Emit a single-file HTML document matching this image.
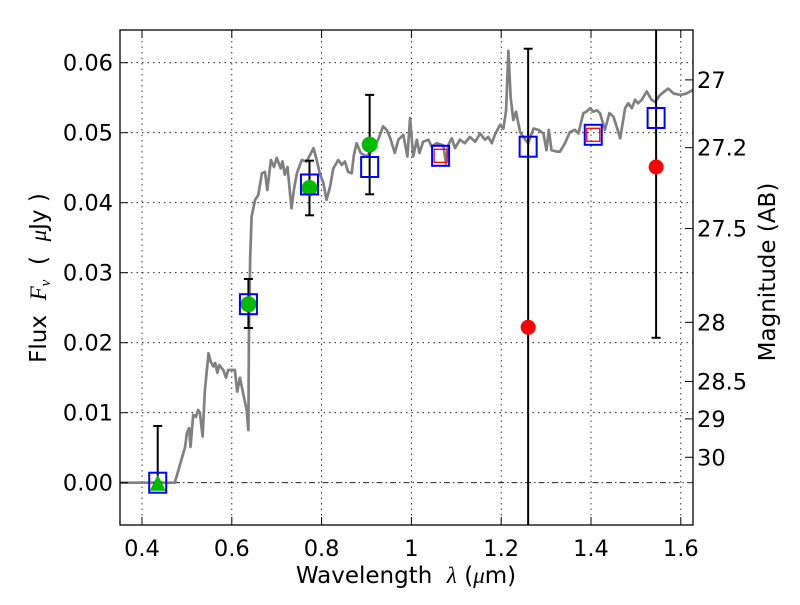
<!DOCTYPE html>
<html><head><meta charset="utf-8"><style>
html,body{margin:0;padding:0;background:#fff;}
svg text{font-family:"DejaVu Sans","Liberation Sans",sans-serif;}
</style></head><body>
<svg id="chart" width="800" height="600" xmlns="http://www.w3.org/2000/svg">
<rect x="0" y="0" width="800" height="600" fill="#fff"/>
<defs><clipPath id="pc"><rect x="120" y="30" width="573" height="495"/></clipPath></defs>
<g id="grid"></g>
<g id="marks" clip-path="url(#pc)"></g>
<rect x="120" y="30" width="573" height="495" fill="none" stroke="#000" stroke-width="1.3"/>
<g id="axes"></g>
<text x="406" y="583" font-size="23" text-anchor="middle" xml:space="preserve">Wavelength  <tspan font-family="Liberation Serif" font-style="italic">λ</tspan> (<tspan font-family="Liberation Serif" font-style="italic">μ</tspan>m)</text>
<text transform="translate(46,278) rotate(-90)" font-size="23" text-anchor="middle" xml:space="preserve">Flux  <tspan font-family="Liberation Serif" font-style="italic">F<tspan font-size="15" dy="4">ν</tspan></tspan><tspan dy="-4">  (  </tspan><tspan font-family="Liberation Serif" font-style="italic">μ</tspan>Jy )</text>
<text transform="translate(775,272) rotate(-90)" font-size="23" text-anchor="middle">Magnitude (AB)</text>
</svg>
<script>
const specWave=[0.351,0.473,0.496,0.500,0.505,0.508,0.514,0.520,0.525,0.529,0.535,0.540,0.548,0.553,0.559,0.563,0.568,0.572,0.581,0.587,0.592,0.607,0.612,0.618,0.633,0.637,0.638,0.641,0.644,0.652,0.659,0.667,0.674,0.679,0.687,0.694,0.700,0.709,0.713,0.718,0.724,0.733,0.739,0.745,0.756,0.767,0.782,0.789,0.796,0.804,0.811,0.819,0.826,0.837,0.845,0.852,0.859,0.867,0.872,0.878,0.887,0.900,0.912,0.926,0.937,0.945,0.952,0.963,0.971,0.982,0.991,0.997,1.004,1.012,1.018,1.026,1.038,1.045,1.056,1.071,1.077,1.082,1.090,1.097,1.108,1.119,1.130,1.142,1.153,1.164,1.171,1.179,1.186,1.197,1.205,1.211,1.216,1.221,1.227,1.233,1.242,1.249,1.260,1.272,1.283,1.294,1.301,1.306,1.312,1.324,1.331,1.342,1.353,1.364,1.372,1.383,1.390,1.398,1.405,1.413,1.420,1.431,1.441,1.450,1.457,1.465,1.476,1.483,1.491,1.498,1.505,1.513,1.524,1.535,1.543,1.554,1.572,1.584,1.599,1.613,1.629];
const specFlux=[0,0,0.0051,0.0071,0.0078,0.0051,0.0097,0.0094,0.0104,0.0100,0.0066,0.0132,0.0185,0.0173,0.0166,0.0171,0.0157,0.0168,0.0161,0.0150,0.0161,0.0161,0.0130,0.0150,0.0104,0.0075,0.0209,0.0323,0.0380,0.0404,0.0411,0.0442,0.0444,0.0418,0.0461,0.0451,0.0464,0.0449,0.0459,0.0440,0.0451,0.0392,0.0421,0.0442,0.0461,0.0459,0.0478,0.0461,0.0442,0.0428,0.0404,0.0423,0.0449,0.0461,0.0454,0.0459,0.0444,0.0442,0.0468,0.0485,0.0471,0.0466,0.0475,0.0490,0.0509,0.0504,0.0494,0.0471,0.0490,0.0497,0.0466,0.0521,0.0466,0.0490,0.0471,0.0487,0.0490,0.0480,0.0485,0.0482,0.0456,0.0482,0.0492,0.0478,0.0490,0.0485,0.0494,0.0487,0.0499,0.0490,0.0494,0.0485,0.0497,0.0511,0.0506,0.0532,0.0617,0.0551,0.0518,0.0530,0.0501,0.0494,0.0485,0.0506,0.0504,0.0499,0.0475,0.0504,0.0475,0.0473,0.0473,0.0485,0.0501,0.0504,0.0499,0.0528,0.0530,0.0535,0.0530,0.0532,0.0528,0.0504,0.0528,0.0523,0.0509,0.0492,0.0535,0.0542,0.0535,0.0547,0.0542,0.0547,0.0559,0.0547,0.0544,0.0554,0.0563,0.0556,0.0554,0.0556,0.0562];
const modelWave=[0.435,0.637,0.773,0.907,1.065,1.260,1.405,1.545];
const modelFlux=[0.0,0.0255,0.0426,0.0451,0.0467,0.0480,0.0497,0.0521];
const redBoxWave=[1.065,1.405];
const redBoxFlux=[0.0467,0.0497];
const obsWave=[0.637,0.773,0.907];
const obsFlux=[0.0255,0.0421,0.0483];
const triWave=[0.435];
const triFlux=[0.0];
const redWave=[1.260,1.545];
const redFlux=[0.0222,0.0451];
const errWave=[0.435,0.637,0.773,0.907,1.260,1.545];
const errLow=[0.0,0.0221,0.0382,0.0412,-0.02,0.0207];
const errHigh=[0.0081,0.0291,0.0460,0.0554,0.0620,0.08];
const xTicks=[0.4,0.6,0.8,1.0,1.2,1.4,1.6];
const xTickLabels=["0.4","0.6","0.8","1","1.2","1.4","1.6"];
const yTicks=[0,0.01,0.02,0.03,0.04,0.05,0.06];
const yTickLabels=["0.00","0.01","0.02","0.03","0.04","0.05","0.06"];
const magTicks=[27,27.2,27.5,28,28.5,29,30];
const magTickLabels=["27","27.2","27.5","28","28.5","29","30"];

const NS="http://www.w3.org/2000/svg";
const X=v=>142+(v-0.4)*449;
const Y=v=>482.7-v*7000;
const magToFlux=m=>Math.pow(10,(23.9-m)/2.5);
function mk(parent,tag,attrs){const e=document.createElementNS(NS,tag);for(const k in attrs)e.setAttribute(k,attrs[k]);parent.appendChild(e);return e;}
const grid=document.getElementById('grid'),marks=document.getElementById('marks'),axes=document.getElementById('axes');

xTicks.forEach((t,i)=>{
  const g=mk(grid,'line',{x1:X(t),x2:X(t),y1:30,y2:525,stroke:'#000','stroke-width':0.8,'stroke-dasharray':'1.5,4'});
  
  
  const a=mk(axes,'line',{x1:X(t),x2:X(t),y1:525,y2:517,stroke:'#000','stroke-width':1});
  
  
  const b=mk(axes,'line',{x1:X(t),x2:X(t),y1:30,y2:38,stroke:'#000','stroke-width':1});
  
  
  const tx=mk(axes,'text',{x:X(t),y:556,'font-size':22.5,'text-anchor':'middle'});
  tx.textContent=xTickLabels[i];
  
  
});
yTicks.forEach((t,i)=>{
  const g=mk(grid,'line',{x1:120,x2:693,y1:Y(t),y2:Y(t),stroke:'#000','stroke-width':0.8,'stroke-dasharray':t===0?'6,3,1.5,3':'1.5,4'});
  
  
  const a=mk(axes,'line',{x1:120,x2:128,y1:Y(t),y2:Y(t),stroke:'#000','stroke-width':1});
  
  
  const tx=mk(axes,'text',{x:113,y:Y(t)+8,'font-size':22.5,'text-anchor':'end'});
  tx.textContent=yTickLabels[i];
  
  
});
magTicks.forEach((m,i)=>{
  const y=Y(magToFlux(m));
  const a=mk(axes,'line',{x1:685,x2:693,y1:y,y2:y,stroke:'#000','stroke-width':1});
  
  
  const tx=mk(axes,'text',{x:697,y:y+8,'font-size':22.5,'text-anchor':'start'});
  tx.textContent=magTickLabels[i];
  
  
});

const pts=specWave.map((w,i)=>X(w).toFixed(1)+','+Y(specFlux[i]).toFixed(1)).join(' ');
const sp=mk(marks,'polyline',{points:pts,fill:'none',stroke:'#808080','stroke-width':2.7,'stroke-linejoin':'round'});



errWave.forEach((w,i)=>{
  const x=X(w),y1=Y(errLow[i]),y2=Y(errHigh[i]);
  const l=mk(marks,'line',{x1:x,x2:x,y1:y1,y2:y2,stroke:'#000','stroke-width':2});
  
  
  [y1,y2].forEach(y=>{
    const c=mk(marks,'line',{x1:x-4.5,x2:x+4.5,y1:y,y2:y,stroke:'#000','stroke-width':2});
    
    
  });
});
obsWave.forEach((w,i)=>{
  const c=mk(marks,'circle',{cx:X(w),cy:Y(obsFlux[i]),r:8,fill:'#00bb00'});
  
  
});
triWave.forEach((w,i)=>{
  const x=X(w),y=Y(triFlux[i]);
  const t=mk(marks,'polygon',{points:`${x},${y-8} ${x-8},${y+8} ${x+8},${y+8}`,fill:'#00bb00'});
  
  
});
redWave.forEach((w,i)=>{
  const c=mk(marks,'circle',{cx:X(w),cy:Y(redFlux[i]),r:7.5,fill:'#ff0000'});
  
  
});
modelWave.forEach((w,i)=>{
  const r=mk(marks,'rect',{x:X(w)-8.5,y:Y(modelFlux[i])-10,width:17,height:20,fill:'none',stroke:'#0000ff','stroke-width':2});
  
  
});
redBoxWave.forEach((w,i)=>{
  const r=mk(marks,'rect',{x:X(w)-6.5,y:Y(redBoxFlux[i])-6.5,width:13,height:13,fill:'none',stroke:'#ff0000','stroke-width':1.3});
  
  
});
</script>
</body></html>
